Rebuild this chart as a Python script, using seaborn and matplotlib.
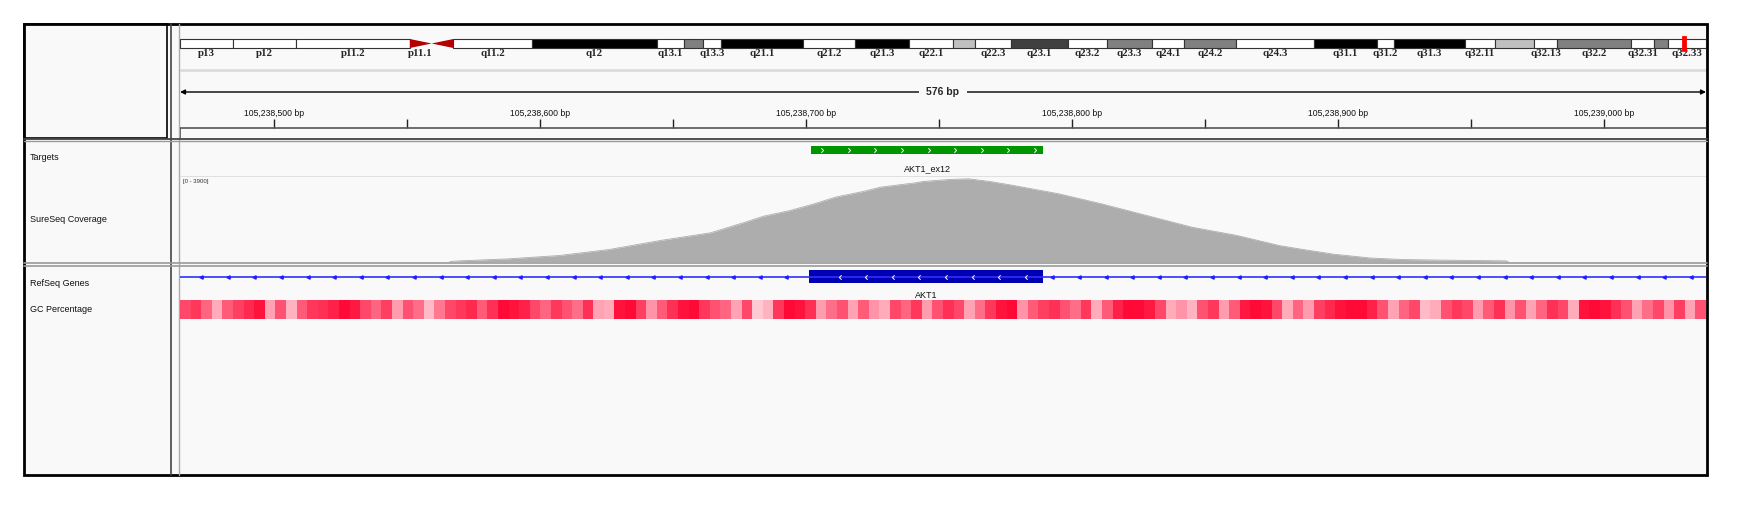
import matplotlib
matplotlib.use("Agg")
import matplotlib.pyplot as plt
from matplotlib.colors import LinearSegmentedColormap
from matplotlib.patches import Rectangle, Polygon
from matplotlib.path import Path
import numpy as np
import pandas as pd
import seaborn as sns

# chr14 ideogram (Mb)
band_names = ["p13", "p12", "p11.2", "p11.1", "", "q11.2", "q12", "q13.1", "",
              "q13.3", "q21.1", "q21.2", "q21.3", "q22.1", "", "q22.3", "q23.1",
              "q23.2", "q23.3", "q24.1", "q24.2", "q24.3", "q31.1", "q31.2",
              "q31.3", "q32.11", "", "q32.13", "q32.2", "q32.31", "", "q32.33"]
band_starts = [0.0, 3.69, 8.14, 16.12, 17.65, 19.18, 24.69, 33.44, 35.37, 36.72,
               37.98, 43.70, 47.35, 51.12, 54.24, 55.73, 58.29, 62.28, 65.02,
               68.15, 70.42, 74.07, 79.54, 83.93, 85.15, 90.13, 92.24, 94.97,
               96.59, 101.78, 103.39, 104.37]
band_ends = band_starts[1:] + [107.04]
band_stains = ["gneg", "gneg", "gneg", "acen_p", "acen_q", "gneg", "gpos100", "gneg",
               "gpos50", "gneg", "gpos100", "gneg", "gpos100", "gneg", "gpos25",
               "gneg", "gpos75", "gneg", "gpos50", "gneg", "gpos50", "gneg",
               "gpos100", "gneg", "gpos100", "gneg", "gpos25", "gneg", "gpos50",
               "gneg", "gpos50", "gneg"]
chrom_len = 107.04
locus_mb = 105.5  # where the red box sits on the ideogram

# visible locus
view_start = 105238464.6
view_end = 105239038.3
view_span_bp = 576

# Targets track
target_name = "AKT1_ex12"
target_start = 105238702
target_end = 105238789

# RefSeq gene
gene_name = "AKT1"
exon_start = 105238701
exon_end = 105238789

# SureSeq coverage, data range [0 - 3900]
cov_max = 3900
cov_pos = [105238566, 105238570, 105238588, 105238607, 105238626, 105238645,
           105238664, 105238677, 105238684, 105238694, 105238703, 105238711,
           105238722, 105238728, 105238741, 105238744, 105238754, 105238761,
           105238769, 105238778, 105238795, 105238811, 105238828, 105238845,
           105238862, 105238878, 105238886, 105238895, 105238898, 105238912,
           105238924, 105238940, 105238963, 105238964]
cov_depth = [0, 30, 120, 270, 545, 950, 1300, 1780, 2056, 2313, 2616, 2918,
             3190, 3372, 3568, 3629, 3720, 3750, 3629, 3447, 3069, 2616, 2086,
             1557, 1179, 720, 560, 393, 336, 160, 90, 60, 30, 0]

# GC percentage, 4 bp windows across the view
gc_percent = [66, 70, 60, 44, 62, 68, 74, 80, 46, 64,
              42, 62, 70, 72, 76, 82, 78, 66, 60, 68,
              48, 64, 58, 40, 56, 66, 70, 74, 62, 72,
              82, 80, 76, 66, 60, 70, 64, 58, 72, 46,
              44, 80, 82, 68, 50, 62, 72, 80, 82, 70,
              64, 60, 46, 66, 36, 42, 70, 82, 80, 72,
              48, 58, 64, 46, 62, 50, 44, 66, 60, 70,
              48, 64, 72, 66, 46, 58, 70, 80, 82, 50,
              62, 68, 72, 64, 58, 70, 44, 62, 76, 82,
              82, 78, 66, 44, 50, 42, 64, 70, 48, 62,
              78, 82, 80, 66, 44, 60, 48, 68, 74, 80,
              82, 82, 76, 64, 46, 60, 66, 40, 44, 64,
              70, 66, 48, 62, 72, 50, 64, 46, 60, 72,
              66, 44, 80, 82, 80, 72, 64, 46, 58, 66,
              50, 68, 46, 64]

track_names = ["Targets", "SureSeq Coverage", "RefSeq Genes", "GC Percentage"]

stain_colors = {"gneg": "#ffffff", "gpos25": "#c0c0c0", "gpos50": "#808080",
                "gpos75": "#404040", "gpos100": "#000000"}

W, H = 1738, 505
PANEL_BG = "#f9f9f9"
DATA_X0, DATA_X1 = 180, 1706

sns.set_style("white")
plt.rcParams["font.family"] = ["Liberation Sans", "DejaVu Sans"]


def rect(x0, y0, x1, y1):
    """Pixel box -> figure fraction."""
    return [x0 / W, 1 - y1 / H, (x1 - x0) / W, (y1 - y0) / H]


def track_axes(y0, y1, xlim):
    ax = fig.add_axes(rect(DATA_X0, y0, DATA_X1, y1))
    ax.set_xlim(*xlim)
    ax.set_ylim(y1, y0)
    ax.set_axis_off()
    ax.patch.set_alpha(0)
    return ax


chevron_right = Path([(-0.5, 1), (0.5, 0), (-0.5, -1)],
                     [Path.MOVETO, Path.LINETO, Path.LINETO])
chevron_left = Path([(0.5, 1), (-0.5, 0), (0.5, -1)],
                    [Path.MOVETO, Path.LINETO, Path.LINETO])

fig = plt.figure(figsize=(W / 100, H / 100), dpi=100)
fig.patch.set_facecolor("white")

# frame, panels and dividers
bg = fig.add_axes([0, 0, 1, 1])
bg.set_xlim(0, W)
bg.set_ylim(H, 0)
bg.set_axis_off()
bg.add_patch(Rectangle((24, 24), 1683, 451, facecolor=PANEL_BG,
                       edgecolor="black", lw=2, zorder=1))
bg.add_patch(Rectangle((24, 24), 143, 114, facecolor="none",
                       edgecolor="black", lw=1.2, zorder=2))
bg.plot([171, 171], [24, 475], color="#444444", lw=1.2, zorder=2)
bg.plot([179, 179], [24, 475], color="#aaaaaa", lw=1, zorder=2)
bg.plot([24, 1707], [138.5, 138.5], color="#444444", lw=1.3, zorder=3)
bg.plot([24, 1707], [140.8, 140.8], color="#9a9a9a", lw=1, zorder=3)
bg.plot([24, 1707], [262.5, 262.5], color="#9a9a9a", lw=1.2, zorder=3)
bg.plot([24, 1707], [265.5, 265.5], color="#9a9a9a", lw=1.2, zorder=3)
for name, y in zip(track_names, [158, 219, 284, 310]):
    bg.text(30, y, name, fontsize=6.5, va="center", ha="left", color="#111111")

# ideogram
ax_ideo = track_axes(30, 62, (0, chrom_len))
bands = pd.DataFrame({"name": band_names, "start": band_starts,
                      "end": band_ends, "stain": band_stains})
ytop, ybot = 39, 48
ymid = (ytop + ybot) / 2
for _, b in bands.iterrows():
    if b["stain"] == "acen_p":
        ax_ideo.add_patch(Polygon([(b["start"], ytop), (b["end"], ymid),
                                   (b["start"], ybot)], color="#b30000", lw=0))
    elif b["stain"] == "acen_q":
        ax_ideo.add_patch(Polygon([(b["end"], ytop), (b["start"], ymid),
                                   (b["end"], ybot)], color="#b30000", lw=0))
    else:
        ax_ideo.add_patch(Rectangle((b["start"], ytop), b["end"] - b["start"],
                                    ybot - ytop, facecolor=stain_colors[b["stain"]],
                                    edgecolor="#333333", lw=0.8))
    if b["name"]:
        ax_ideo.text((b["start"] + b["end"]) / 2, 54, b["name"], ha="center",
                     va="center", fontsize=7.8, fontweight="bold",
                     family=["Liberation Serif", "DejaVu Serif"])
ax_ideo.add_patch(Rectangle((locus_mb - 0.1, 36.5), 0.2, 13, facecolor="none",
                            edgecolor="#ff0000", lw=2, zorder=5))

# ruler
ax_rul = track_axes(60, 138, (view_start, view_end))
ax_rul.axhline(70, color="#dcdcdc", lw=2)
ax_rul.annotate("", xy=(view_start, 92), xytext=(view_end, 92),
                arrowprops=dict(arrowstyle="<|-|>", lw=1, color="black",
                                mutation_scale=7, shrinkA=0, shrinkB=0))
ax_rul.text((view_start + view_end) / 2, 92, f"{view_span_bp} bp", ha="center",
            va="center", fontsize=7.5, fontweight="bold",
            bbox=dict(boxstyle="square,pad=0.7", facecolor=PANEL_BG, edgecolor="none"))
tick_pos = np.arange(np.ceil(view_start / 50) * 50, view_end, 50)
ax_rul.vlines(tick_pos, 119, 128, color="#222222", lw=1)
for t in tick_pos:
    if t % 100 == 0:
        ax_rul.text(t, 113, f"{int(t):,} bp", ha="center", va="center",
                    fontsize=6.2, color="#111111")
ax_rul.axhline(128, color="#555555", lw=1.2)
ax_rul.vlines([view_start], 128, 138, color="#555555", lw=1.2)

# targets
ax_tgt = track_axes(141, 175, (view_start, view_end))
ax_tgt.broken_barh([(target_start, target_end - target_start)], (145.5, 8.5),
                   facecolor="#009600", edgecolor="none")
tgt_marks = np.arange(target_start + 4, target_end, 10)
ax_tgt.plot(tgt_marks, np.full(len(tgt_marks), 149.7), ls="none",
            marker=chevron_right, ms=3.2, mec="white", mfc="none", mew=0.7)
ax_tgt.text((target_start + target_end) / 2, 169, target_name, ha="center",
            va="center", fontsize=6.5, color="#111111")

# coverage
ax_cov = fig.add_axes(rect(DATA_X0, 175.5, DATA_X1, 261.5))
ax_cov.set_xlim(view_start, view_end)
ax_cov.set_ylim(0, cov_max)
ax_cov.patch.set_alpha(0)
ax_cov.axhline(cov_max, color="#dcdcdc", lw=1.2)
cov = pd.DataFrame({"pos": cov_pos, "depth": cov_depth})
ax_cov.fill_between(cov["pos"], cov["depth"], color="#adadad", lw=0)
sns.lineplot(data=cov, x="pos", y="depth", ax=ax_cov, color="#adadad", lw=0.6)
ax_cov.set_axis_off()
ax_cov.text(0.002, 0.93, f"[0 - {cov_max}]", transform=ax_cov.transAxes,
            fontsize=4.3, color="#333333", va="center")

# RefSeq genes
ax_gene = track_axes(266, 300, (view_start, view_end))
ax_gene.axhline(277, color="#3030ff", lw=1.2)
strand_ticks = np.arange(view_start + 8, view_end, 10)
on_line = strand_ticks[(strand_ticks < exon_start - 2) | (strand_ticks > exon_end + 2)]
ax_gene.plot(on_line, np.full(len(on_line), 277), ls="none", marker="<",
             ms=2.4, color="#2020ff")
ax_gene.broken_barh([(exon_start, exon_end - exon_start)], (270, 13.5),
                    facecolor="#0000b2", edgecolor="none")
in_exon = strand_ticks[(strand_ticks > exon_start + 5) & (strand_ticks < exon_end - 4)]
ax_gene.plot(in_exon, np.full(len(in_exon), 276.7), ls="none", marker=chevron_left,
             ms=3.2, mec="white", mfc="none", mew=0.7)
ax_gene.text((exon_start + exon_end) / 2, 296, gene_name, ha="center",
             va="center", fontsize=6.5, color="#111111")

# GC percentage
ax_gc = fig.add_axes(rect(DATA_X0, 300, DATA_X1, 319))
gc_cmap = LinearSegmentedColormap.from_list(
    "gc", ["#ffc9d3", "#ff8fa3", "#ff4466", "#ff0a36"])
sns.heatmap(np.array(gc_percent)[None, :], ax=ax_gc, cmap=gc_cmap, vmin=36,
            vmax=82, cbar=False, xticklabels=False, yticklabels=False)
ax_gc.set_axis_off()

fig.savefig("out.png", dpi=100, facecolor="white")
